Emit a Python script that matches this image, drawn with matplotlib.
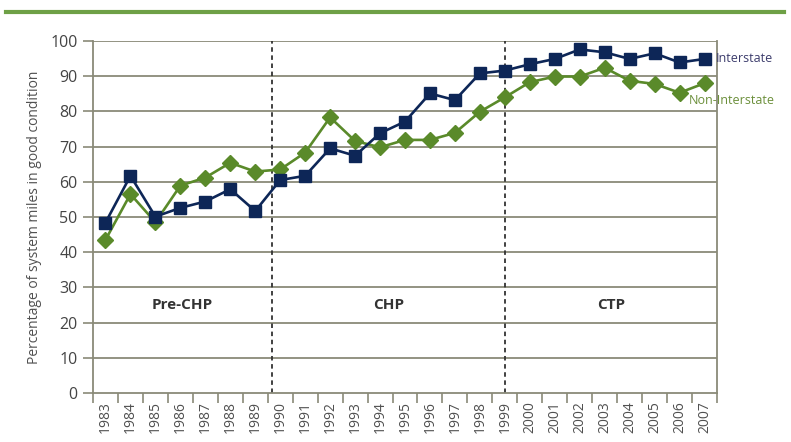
import matplotlib
matplotlib.use("Agg")
import matplotlib.pyplot as plt
from matplotlib.lines import Line2D

years = [str(y) for y in range(1983, 2008)]
interstate = [48.4, 61.7, 50.1, 52.6, 54.4, 57.9, 51.7, 60.5, 61.7, 69.5, 67.4, 73.8,
              77.1, 85.1, 83.2, 90.8, 91.6, 93.4, 94.9, 97.6, 96.8, 94.9, 96.5, 93.9, 94.9]
non_interstate = [43.5, 56.5, 48.5, 58.9, 61.2, 65.4, 62.9, 63.5, 68.3, 78.3, 71.6, 69.8,
                  71.9, 71.9, 73.9, 79.9, 84.0, 88.3, 89.9, 89.9, 92.4, 88.7, 87.8, 85.3, 88.0]
periods = ["Pre-CHP", "CHP", "CTP"]
yticks = list(range(0, 101, 10))

plt.rcParams['font.family'] = ['Open Sans', 'DejaVu Sans']

navy = "#0d2657"
green = "#5a8a2a"
grid_c = "#8a8a78"
txt_c = "#505050"

fig = plt.figure(figsize=(7.91, 4.42), dpi=100)
ax = fig.add_axes([93/791, 1-393/442, (717-93)/791, (393-41)/442])

x = list(range(len(years)))
ax.set_xlim(-0.5, len(years) - 0.5)
ax.set_ylim(0, 100)

for yv in yticks[1:]:
    ax.axhline(yv, color=grid_c, lw=1.3, zorder=1)

ax.plot(x, interstate, color=navy, lw=1.9, marker='s', markersize=8.5, zorder=4)
ax.plot(x, non_interstate, color=green, lw=1.9, marker='D', markersize=8.5, zorder=3)

b1, b2 = 6.68, 16.0
for b in (b1, b2):
    ax.plot([b, b], [0, 100], color="#333333", lw=1.3, ls=(0, (2.5, 2)), zorder=2)

centers = [(-0.5 + b1) / 2, (b1 + b2) / 2, (b2 + len(years) - 0.5) / 2]
for c, lab in zip(centers, periods):
    ax.text(c, 25, lab, ha='center', va='center', fontsize=11, fontweight='bold', color="#333333")

ax.text(24.45, interstate[-1], "Interstate", ha='left', va='center', fontsize=9, color="#3c3c6c",
        clip_on=False, zorder=5)
ax.text(23.36, 83.2, "Non-Interstate", ha='left', va='center', fontsize=9,
        color="#6b8f3a", clip_on=False, zorder=5)

ax.set_yticks(yticks)
ax.set_yticklabels([str(v) for v in yticks], fontsize=11.5, color="#444444")
ax.set_xticks(x)
ax.set_xticklabels(years, rotation=90, fontsize=10, color=txt_c)
ax.set_xticks([i - 0.5 for i in range(len(years) + 1)], minor=True)
ax.tick_params(axis='x', which='major', length=0, pad=6)
ax.tick_params(axis='x', which='minor', length=7, color=grid_c, width=1.2)
ax.tick_params(axis='y', length=7, color=grid_c, width=1.2, pad=4)

for s in ['left', 'right', 'bottom']:
    ax.spines[s].set_color(grid_c)
    ax.spines[s].set_linewidth(1.3)
ax.spines['top'].set_visible(False)

ax.set_ylabel("Percentage of system miles in good condition", fontsize=10, color=txt_c, labelpad=6)

fig.add_artist(Line2D([6/791, 784/791], [1-12/442, 1-12/442], color="#6ea046", lw=3))

fig.savefig("out.png", dpi=100)
